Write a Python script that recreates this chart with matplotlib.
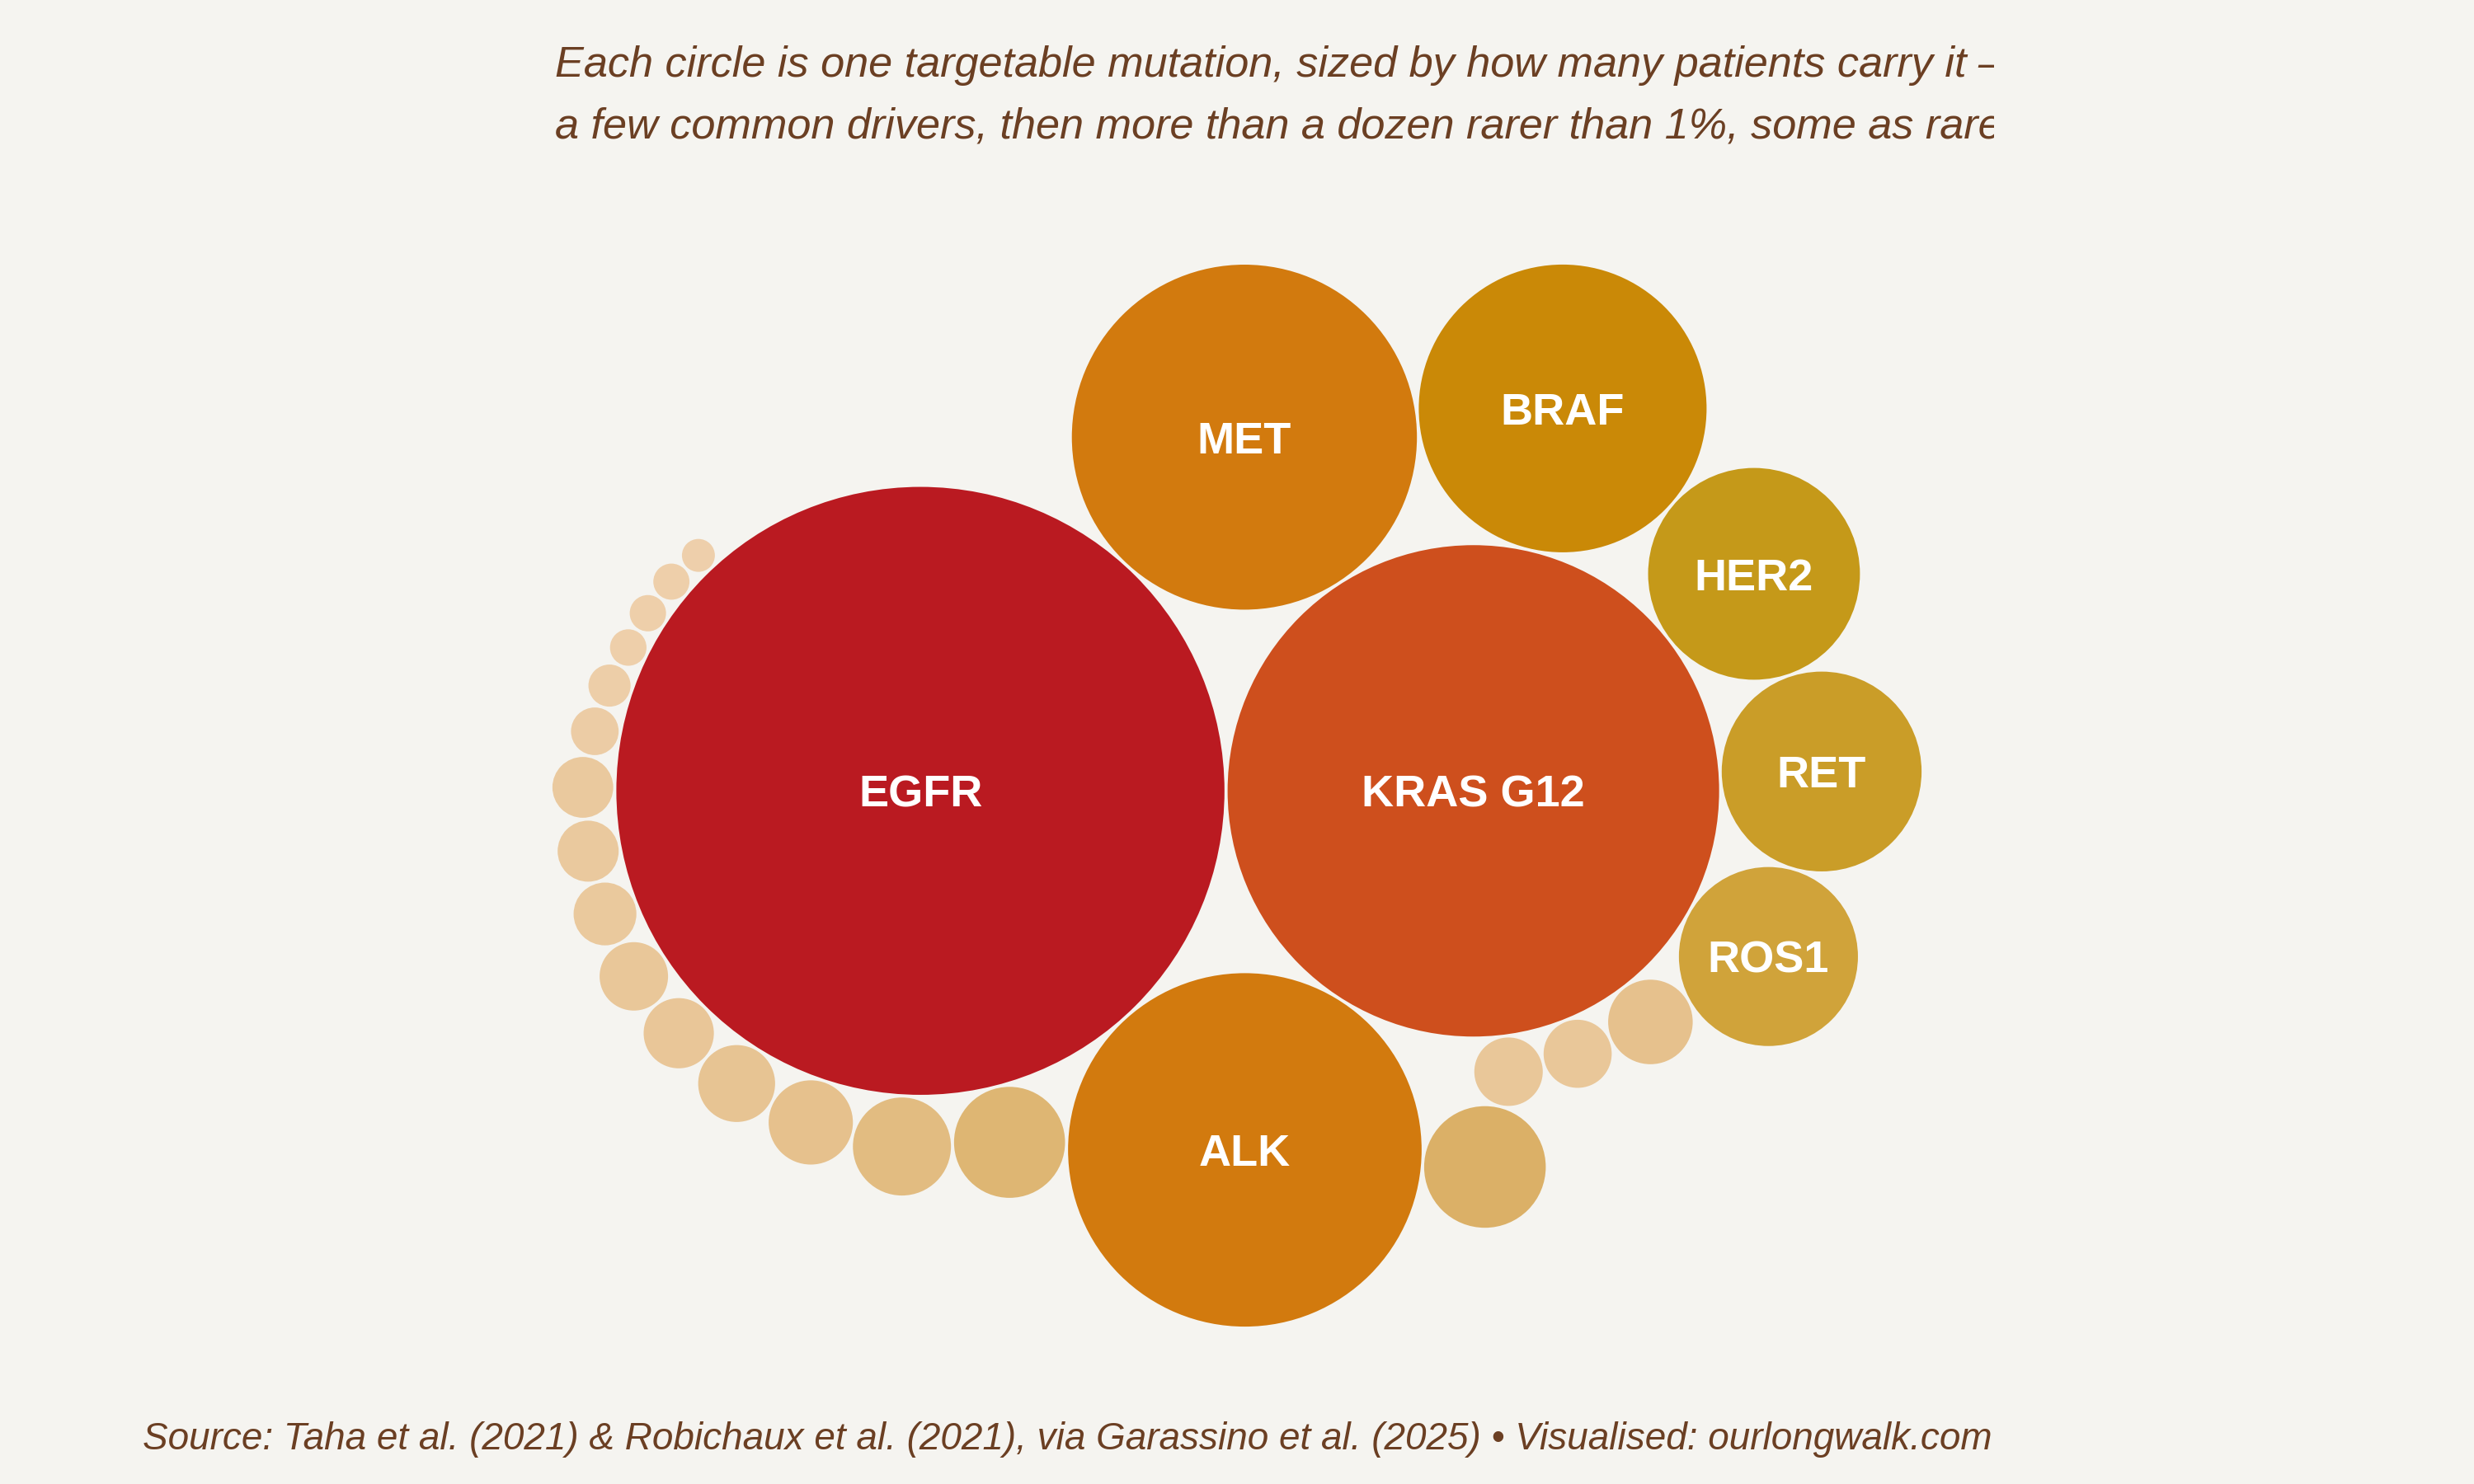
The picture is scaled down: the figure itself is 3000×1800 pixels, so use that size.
import numpy as np
import matplotlib
matplotlib.use("Agg")
import matplotlib.pyplot as plt
from matplotlib.patches import Circle
from matplotlib.colors import LinearSegmentedColormap, Normalize

# === Dados (% de pacientes) ===
drivers = ["EGFR", "KRAS G12", "MET", "ALK", "BRAF", "HER2", "RET", "ROS1"]
driver_share = [15.0, 9.8, 4.83, 5.07, 3.36, 1.82, 1.62, 1.30]
driver_colors = ["#BA1A21", "#CE4F1D", "#D27A0E", "#D27A0E", "#CA8907",
                 "#C59919", "#CA9D28", "#D0A33A"]

# mutações raras (< 1%), sem rótulo, na ordem em que são encaixadas
rare_share = [0.29, 0.188, 0.19, 0.60,                      # junto ao KRAS / ALK
              0.50, 0.39, 0.288, 0.24, 0.20, 0.19, 0.16,    # arco em volta do EGFR
              0.151, 0.15, 0.092, 0.072, 0.054, 0.0535, 0.053, 0.044]

subtitle_1 = "Each circle is one targetable mutation, sized by how many patients carry it \u2013"
subtitle_2 = "a few common drivers, then more than a dozen rarer than 1%, some as rare"
source = ("Source: Taha et al. (2021) & Robichaux et al. (2021), via Garassino et al. (2025) "
          "\u2022 Visualised: ourlongwalk.com")

BG = "#F5F4F0"
INK = "#6B3F23"

W, H = 3000, 1800
R_MAX = 368.7                          # raio do EGFR em px
k = R_MAX / np.sqrt(max(driver_share))
GAP = 3.8


def radius(v):
    return k * np.sqrt(v)


# === Layout: cada círculo encostado em dois já colocados ===

def tangent(A, B, r, side=1):
    (ax_, ay_, ra), (bx_, by_, rb) = A, B
    dA = ra + r + GAP
    dB = rb + r + GAP
    dx, dy = bx_ - ax_, by_ - ay_
    d = np.hypot(dx, dy)
    a = (dA ** 2 - dB ** 2 + d ** 2) / (2 * d)
    h = np.sqrt(max(0.0, dA ** 2 - a ** 2))
    px, py = ax_ + a * dx / d, ay_ + a * dy / d
    return (px - side * h * dy / d, py + side * h * dx / d, r)


pos = {}
r_egfr = radius(driver_share[0])
r_kras = radius(driver_share[1])
pos["EGFR"] = (0.0, 0.0, r_egfr)
pos["KRAS G12"] = (r_egfr + r_kras + GAP, 0.0, r_kras)

# vizinhos de cada driver (A, B, lado)
driver_rule = {
    "MET": ("EGFR", "KRAS G12", 1),
    "ALK": ("EGFR", "KRAS G12", -1),
    "BRAF": ("MET", "KRAS G12", 1),
    "HER2": ("BRAF", "KRAS G12", 1),
    "RET": ("HER2", "KRAS G12", 1),
    "ROS1": ("RET", "KRAS G12", 1),
}
for name, v in zip(drivers[2:], driver_share[2:]):
    A, B, s = driver_rule[name]
    pos[name] = tangent(pos[A], pos[B], radius(v), s)

rare_pos = []
prev = pos["ROS1"]
for i, v in enumerate(rare_share):
    r = radius(v)
    if i < 3:
        c = tangent(prev, pos["KRAS G12"], r)
    elif i == 3:
        c = tangent(prev, pos["ALK"], r)
    elif i == 4:
        c = tangent(pos["ALK"], pos["EGFR"], r)
    else:
        c = tangent(prev, pos["EGFR"], r)
    rare_pos.append(c)
    prev = c

# centraliza o conjunto na figura
allc = [pos[n] for n in drivers] + rare_pos
xmin = min(x - r for x, y, r in allc)
xmax = max(x + r for x, y, r in allc)
ymin = min(y - r for x, y, r in allc)
ymax = max(y + r for x, y, r in allc)
ox = 1500 - (xmin + xmax) / 2
oy = (H - 965) - (ymin + ymax) / 2

rare_cmap = LinearSegmentedColormap.from_list("rare", ["#EECFAB", "#DBB067"])
rare_norm = Normalize(min(rare_share), max(rare_share))

# === Figura ===
fig = plt.figure(figsize=(15, 9), dpi=200, facecolor=BG)
ax = fig.add_axes([0, 0, 1, 1])
ax.set_xlim(0, W)
ax.set_ylim(0, H)
ax.set_aspect("equal")
ax.set_axis_off()

for name, col in zip(drivers, driver_colors):
    x, y, r = pos[name]
    ax.add_patch(Circle((x + ox, y + oy), r, facecolor=col, edgecolor="none"))
    ax.text(x + ox, y + oy, name, color="white", fontsize=19.5, fontweight="bold",
            family="Liberation Sans", ha="center", va="center_baseline")

for (x, y, r), v in zip(rare_pos, rare_share):
    ax.add_patch(Circle((x + ox, y + oy), r, facecolor=rare_cmap(rare_norm(v)),
                        edgecolor="none"))

# subtítulo (cortado na margem direita, como no original)
cap = fig.add_axes([0, 0, 2418 / W, 1])
cap.set_xlim(0, 2418)
cap.set_ylim(H, 0)
cap.set_axis_off()
for txt, y in [(subtitle_1, 93), (subtitle_2, 168)]:
    cap.text(673, y, txt, color=INK, fontsize=18.8, fontstyle="italic",
             family="Liberation Sans", ha="left", va="baseline", clip_on=True)

ax.text(2416, H - 1758, source, color=INK, fontsize=16.5, fontstyle="italic",
        family="Liberation Sans", ha="right", va="baseline")

fig.savefig("out.png", dpi=200, facecolor=BG)
